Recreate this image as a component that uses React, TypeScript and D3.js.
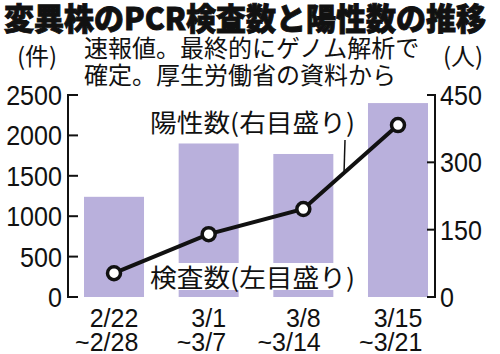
import { useEffect, useRef } from 'react'
import * as d3 from 'd3'

const weeks = ['2/22', '3/1', '3/8', '3/15']
const weekEnds = ['~2/28', '~3/7', '~3/14', '~3/21']
const tests = [1240, 1900, 1770, 2400]
const positives = [53, 140, 196, 383]
const leftTicks = [0, 500, 1000, 1500, 2000, 2500]
const rightTicks = [0, 150, 300, 450]

const JP = '"Noto Sans CJK JP", "Noto Sans", sans-serif'
const NUM = '"Liberation Sans", Arial, sans-serif'

const draw = (el: SVGSVGElement) => {
    const svg = d3.select(el)
    svg.selectAll('*').remove()

    const x = d3.scaleBand().domain(weeks).range([84, 428]).paddingInner(0.366).paddingOuter(0)
    const yL = d3.scaleLinear().domain([0, 2500]).range([297, 95])
    const yR = d3.scaleLinear().domain([0, 450]).range([297, 95])

    // title + note
    svg.append('text')
        .attr('x', 4).attr('y', 30)
        .attr('font-family', JP).attr('font-weight', 900).attr('font-size', 31)
        .attr('stroke', '#111').attr('stroke-width', 0.9).attr('fill', '#111')
        .attr('textLength', 482).attr('lengthAdjust', 'spacingAndGlyphs')
        .text('変異株のPCR検査数と陽性数の推移')
    const note = ['速報値。最終的にゲノム解析で', '確定。厚生労働省の資料から']
    note.forEach((t, i) => {
        svg.append('text')
            .attr('x', 84).attr('y', 57 + i * 27)
            .attr('font-family', JP).attr('font-size', 24).attr('fill', '#111')
            .text(t)
    })
    svg.append('text').attr('x', 37).attr('y', 65).attr('text-anchor', 'middle')
        .attr('font-family', JP).attr('font-size', 24).attr('fill', '#111').text('(件)')
    svg.append('text').attr('x', 463).attr('y', 65).attr('text-anchor', 'middle')
        .attr('font-family', JP).attr('font-size', 24).attr('fill', '#111').text('(人)')

    // bars
    svg.selectAll('rect.bar')
        .data(tests)
        .join('rect')
        .attr('class', 'bar')
        .attr('x', (d, i) => x(weeks[i]))
        .attr('y', d => yL(d))
        .attr('width', x.bandwidth())
        .attr('height', d => yL(0) - yL(d))
        .attr('fill', '#b9b0dc')

    // axes
    const axL = svg.append('g').attr('stroke', '#111').attr('stroke-width', 2)
    axL.append('line').attr('x1', 68).attr('x2', 68).attr('y1', yL(2500)).attr('y2', yL(0))
    leftTicks.forEach(t => {
        axL.append('line').attr('x1', 67).attr('x2', 78).attr('y1', yL(t)).attr('y2', yL(t))
        svg.append('text').attr('x', 62).attr('y', yL(t) + 10).attr('text-anchor', 'end')
            .attr('font-family', NUM).attr('font-size', 27).attr('fill', '#111')
            .attr('transform', `translate(62,0) scale(0.93,1) translate(-62,0)`)
            .text(t)
    })
    const axR = svg.append('g').attr('stroke', '#111').attr('stroke-width', 2)
    axR.append('line').attr('x1', 435).attr('x2', 435).attr('y1', yR(450)).attr('y2', yR(0))
    rightTicks.forEach(t => {
        axR.append('line').attr('x1', 427).attr('x2', 436).attr('y1', yR(t)).attr('y2', yR(t))
        svg.append('text').attr('x', 440).attr('y', yR(t) + 10)
            .attr('font-family', NUM).attr('font-size', 27).attr('fill', '#111')
            .attr('transform', `translate(440,0) scale(0.93,1) translate(-440,0)`)
            .text(t)
    })

    // x labels, second line right aligned to first
    weeks.forEach((w, i) => {
        const cx = x(w) + x.bandwidth() / 2
        const t1 = svg.append('text').attr('x', cx).attr('y', 327).attr('text-anchor', 'middle')
            .attr('font-family', NUM).attr('font-size', 25).attr('fill', '#111').text(w)
        const w1 = (t1.node() as SVGTextElement).getComputedTextLength()
        svg.append('text').attr('x', cx + w1 / 2).attr('y', 351).attr('text-anchor', 'end')
            .attr('font-family', NUM).attr('font-size', 25).attr('fill', '#111').text(weekEnds[i])
    })

    // label for bars (white backing)
    svg.append('rect').attr('x', 148).attr('y', 263).attr('width', 209).attr('height', 27).attr('fill', '#fff')
    svg.append('text').attr('x', 150).attr('y', 287)
        .attr('font-family', JP).attr('font-size', 25).attr('fill', '#111')
        .attr('textLength', 205).attr('lengthAdjust', 'spacingAndGlyphs')
        .text('検査数(左目盛り)')

    // positives line
    const line = d3.line<number>()
        .x((d, i) => x(weeks[i]) + x.bandwidth() / 2)
        .y(d => yR(d))
    svg.append('path').datum(positives).attr('d', line)
        .attr('fill', 'none').attr('stroke', '#111').attr('stroke-width', 4)
    svg.selectAll('circle.pt')
        .data(positives)
        .join('circle')
        .attr('class', 'pt')
        .attr('cx', (d, i) => x(weeks[i]) + x.bandwidth() / 2)
        .attr('cy', d => yR(d))
        .attr('r', 6.5)
        .attr('fill', '#fff').attr('stroke', '#111').attr('stroke-width', 3.5)

    svg.append('text').attr('x', 150).attr('y', 132)
        .attr('font-family', JP).attr('font-size', 25).attr('fill', '#111')
        .attr('textLength', 205).attr('lengthAdjust', 'spacingAndGlyphs')
        .text('陽性数(右目盛り)')
    svg.append('line').attr('x1', 345).attr('y1', 140).attr('x2', 344).attr('y2', 174)
        .attr('stroke', '#111').attr('stroke-width', 1.5)
}

export default function App() {
    const ref = useRef<SVGSVGElement>(null)
    useEffect(() => {
        if (ref.current) draw(ref.current)
    }, [])
    return (
        <svg
            ref={ref}
            width={500}
            height={354}
            style={{ position: 'absolute', left: 0, top: 0, background: '#fff' }}
        />
    )
}
